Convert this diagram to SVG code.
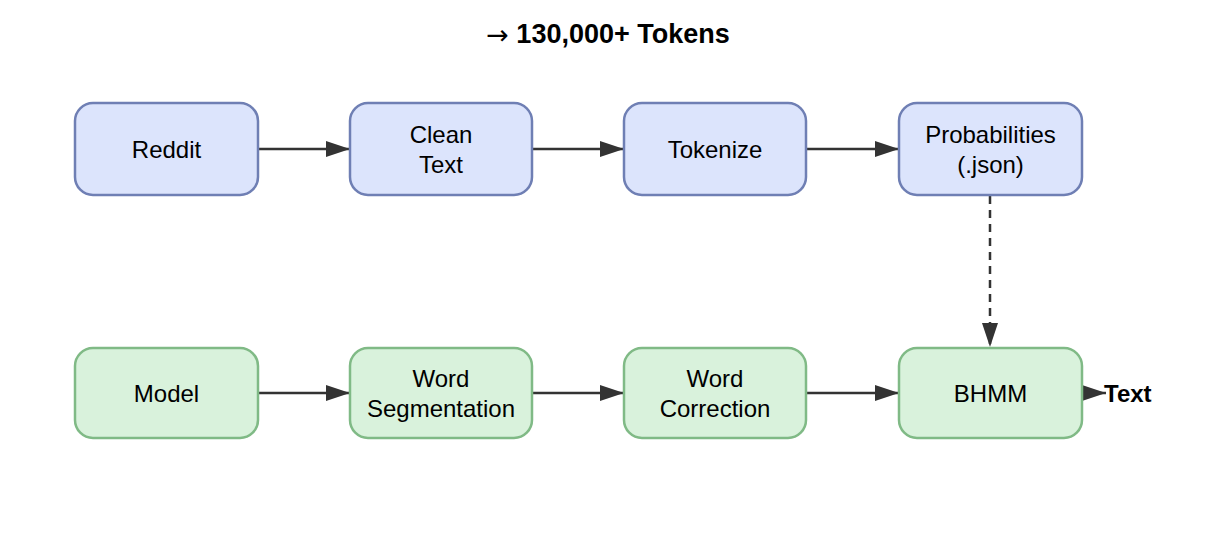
<svg xmlns="http://www.w3.org/2000/svg" width="1222" height="556" viewBox="0 0 1222 556">
<defs>
<marker id="ah" viewBox="0 0 24 16" refX="24" refY="8" markerWidth="24" markerHeight="16" markerUnits="userSpaceOnUse" orient="auto">
<path d="M0,0 L24,8 L0,16 z" fill="#333"/>
</marker>
<style>
.t{font-family:"Liberation Sans",Arial,sans-serif;font-size:24px;fill:#000;text-anchor:middle;dominant-baseline:central}
.blue{fill:#dce4fc;stroke:#6f7fb4;stroke-width:2.5}
.green{fill:#d9f2dc;stroke:#80ba86;stroke-width:2.5}
.e{stroke:#333;stroke-width:2.5;fill:none;marker-end:url(#ah)}
</style>
</defs>
<rect width="1222" height="556" fill="#fff"/>
<text x="608" y="34" class="t" style="font-weight:bold;font-size:27px"><tspan style="font-family:'DejaVu Sans',sans-serif;font-weight:normal">→</tspan> 130,000+ Tokens</text>
<g id="connectors">
<path class="e" d="M258,149 L350,149"/>
<path class="e" d="M532,149 L624,149"/>
<path class="e" d="M806,149 L899,149"/>
<path class="e" d="M990,196 L990,347" stroke-dasharray="8,6"/>
<path class="e" d="M258,393 L350,393"/>
<path class="e" d="M532,393 L624,393"/>
<path class="e" d="M806,393 L899,393"/>
<path class="e" d="M1082,393 L1106,393"/>
</g>
<g id="reddit"><rect class="blue" x="75" y="103" width="183" height="92" rx="18"/><text class="t" x="166.5" y="149">Reddit</text></g>
<g id="clean"><rect class="blue" x="350" y="103" width="182" height="92" rx="18"/><text class="t" x="441" y="134">Clean</text><text class="t" x="441" y="164">Text</text></g>
<g id="tokenize"><rect class="blue" x="624" y="103" width="182" height="92" rx="18"/><text class="t" x="715" y="149">Tokenize</text></g>
<g id="prob"><rect class="blue" x="899" y="103" width="183" height="92" rx="18"/><text class="t" x="990.5" y="134">Probabilities</text><text class="t" x="990.5" y="164">(.json)</text></g>
<g id="model"><rect class="green" x="75" y="348" width="183" height="90" rx="18"/><text class="t" x="166.5" y="393">Model</text></g>
<g id="seg"><rect class="green" x="350" y="348" width="182" height="90" rx="18"/><text class="t" x="441" y="378">Word</text><text class="t" x="441" y="408">Segmentation</text></g>
<g id="corr"><rect class="green" x="624" y="348" width="182" height="90" rx="18"/><text class="t" x="715" y="378">Word</text><text class="t" x="715" y="408">Correction</text></g>
<g id="bhmm"><rect class="green" x="899" y="348" width="183" height="90" rx="18"/><text class="t" x="990.5" y="393">BHMM</text></g>
<g id="text"><text class="t" x="1104" y="393" style="font-weight:bold;text-anchor:start">Text</text></g>
</svg>
